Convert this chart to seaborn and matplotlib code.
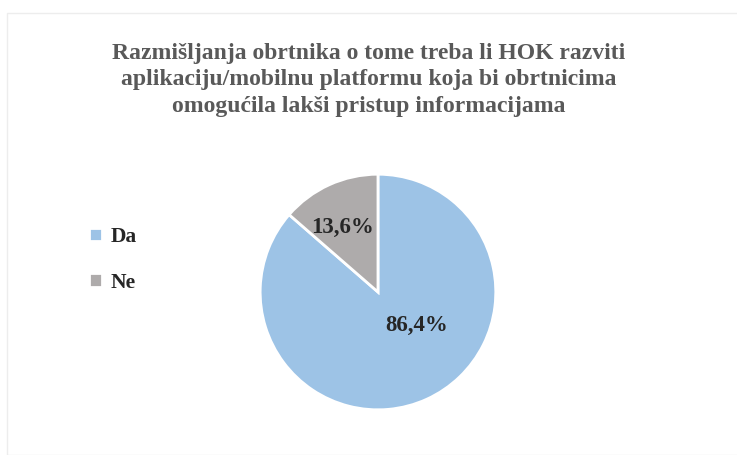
import matplotlib
matplotlib.use("Agg")
import matplotlib.pyplot as plt
import seaborn as sns
from matplotlib.patches import Rectangle

categories = ["Da", "Ne"]
values = [86.4, 13.6]
colors = ["#9DC3E6", "#AEABAB"]
title = ("Razmišljanja obrtnika o tome treba li HOK razviti\n"
         "aplikaciju/mobilnu platformu koja bi obrtnicima\n"
         "omogućila lakši pristup informacijama")

sns.set_theme(style="white")
plt.rcParams['font.family'] = ['Liberation Serif', 'DejaVu Serif']

fig = plt.figure(figsize=(7.37, 4.55), dpi=100)
fig.patch.set_facecolor("white")
fig.add_artist(Rectangle((7/737, 0.0), 1.0, 1 - 13/455, transform=fig.transFigure,
                         fill=False, edgecolor="#EDEDED", linewidth=1))

fig.text(0.5, 1 - 80/455, title, ha="center", va="center", fontsize=17,
         fontweight="bold", color="#595959", linespacing=1.33)

ax = fig.add_axes([0.3514, 0.0967, 0.3229, 0.523])
wedges, texts, autotexts = ax.pie(values, colors=colors, startangle=90, counterclock=False,
                                  autopct=lambda p: f"{p:.1f}%".replace(".", ","),
                                  pctdistance=0.6,
                                  wedgeprops=dict(edgecolor="white", linewidth=2),
                                  textprops=dict(fontsize=16.5, fontweight="bold", color="#262626"))
autotexts[0].set_position((0.33, -0.28))
autotexts[1].set_position((-0.30, 0.55))
ax.set_xlim(-1.01, 1.01)
ax.set_ylim(-1.01, 1.01)

leg = fig.legend(wedges, categories, loc="center left", bbox_to_anchor=(0.095, 1 - 260/455),
                 frameon=False, handlelength=0.6, handleheight=0.6, handletextpad=0.4,
                 labelspacing=1.2, prop=dict(size=15.5, weight="bold"))
for t in leg.get_texts():
    t.set_color("#262626")

fig.savefig("out.png", dpi=100, facecolor="white")
